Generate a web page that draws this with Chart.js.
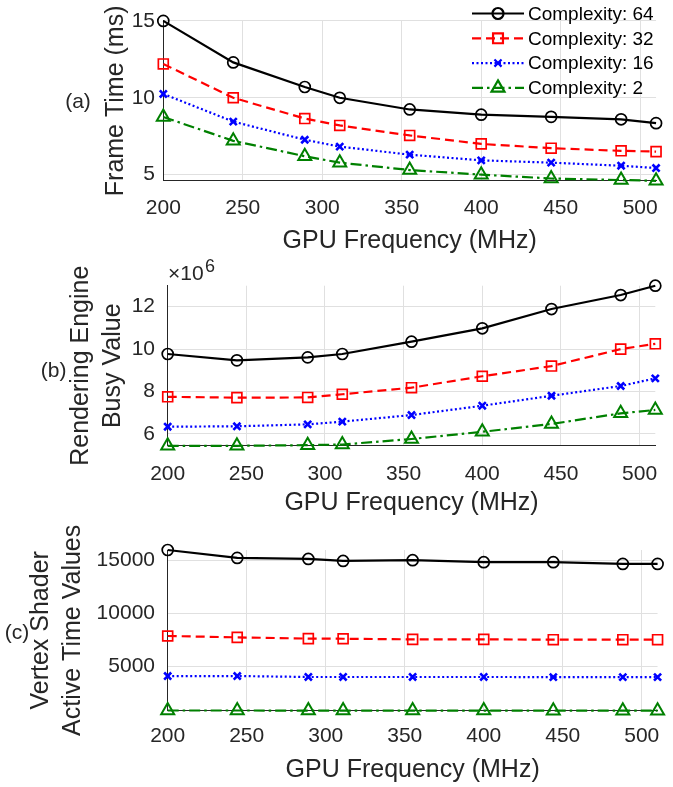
<!DOCTYPE html>
<html>
<head>
<meta charset="utf-8">
<script src="https://cdn.jsdelivr.net/npm/chart.js@4.4.0/dist/chart.umd.min.js"></script>
<style>
  html, body { margin: 0; padding: 0; background: #fff; }
  #wrap { position: relative; width: 673px; height: 787px; overflow: hidden; }
  #wrap canvas { position: absolute; left: 0; }
</style>
</head>
<body>
<div id="wrap">
  <canvas id="chartA" width="673" height="262" style="top:0"></canvas>
  <canvas id="chartB" width="673" height="280" style="top:245px"></canvas>
  <canvas id="chartC" width="673" height="267" style="top:520px"></canvas>
</div>
<script>
// GPU frequencies (x axis) and series names
const freqMHz = [200, 244, 289, 311, 355, 400, 444, 488, 510];
const complexityLabels = ['Complexity: 64', 'Complexity: 32', 'Complexity: 16', 'Complexity: 2'];

// (a) frame time in ms
const frameTime64 = [15.0, 12.3, 10.7, 10.0, 9.24, 8.9, 8.76, 8.6, 8.35];
const frameTime32 = [12.2, 10.0, 8.65, 8.2, 7.55, 7.0, 6.72, 6.55, 6.5];
const frameTime16 = [10.25, 8.45, 7.27, 6.82, 6.3, 5.93, 5.78, 5.58, 5.43];
const frameTime2 = [8.75, 7.2, 6.2, 5.78, 5.3, 5.0, 4.75, 4.65, 4.6];

// (b) rendering engine busy value, x10^6
const busy64 = [9.77, 9.47, 9.61, 9.77, 10.35, 10.98, 11.89, 12.55, 12.99];
const busy32 = [7.75, 7.71, 7.72, 7.87, 8.18, 8.72, 9.2, 10.0, 10.25];
const busy16 = [6.34, 6.36, 6.45, 6.58, 6.89, 7.33, 7.8, 8.26, 8.62];
const busy2 = [5.44, 5.44, 5.47, 5.5, 5.76, 6.1, 6.47, 6.97, 7.13];

// (c) vertex shader active time
const vsActive64 = [16010, 15260, 15160, 14970, 15040, 14850, 14850, 14690, 14690];
const vsActive32 = [7850, 7720, 7600, 7590, 7530, 7530, 7500, 7500, 7500];
const vsActive16 = [4050, 4050, 3960, 3960, 3960, 3960, 3950, 3950, 3950];
const vsActive2 = [780, 780, 770, 770, 770, 770, 760, 760, 760];

// tick labels
const freqTicks = [200, 250, 300, 350, 400, 450, 500];
const frameTimeTicks = [5, 10, 15];
const busyTicks = [6, 8, 10, 12];
const vsActiveTicks = [5000, 10000, 15000];

const FONT = '"Liberation Sans", Arial, Helvetica, sans-serif';
const INK = '#262626';

const looks = [
    { color: '#000000', dash: [], point: 'circle', r: 5.5, pw: 1.7 },
    { color: '#ff0000', dash: [9, 5], point: 'rect', r: 7, pw: 1.7 },
    { color: '#0000ff', dash: [2, 2.5], point: 'crossRot', r: 5, pw: 2.6 },
    { color: '#008000', dash: [11, 4, 2.5, 4], point: 'triangle', r: 7.5, pw: 2 }
];

function buildDatasets(seriesList) {
    return seriesList.map((vals, i) => ({
        label: complexityLabels[i],
        data: freqMHz.map((f, k) => ({ x: f, y: vals[k] })),
        borderColor: looks[i].color,
        backgroundColor: 'rgba(0,0,0,0)',
        borderWidth: 2.2,
        borderDash: looks[i].dash,
        pointStyle: looks[i].point,
        pointRadius: looks[i].r,
        pointBorderWidth: looks[i].pw,
        pointBackgroundColor: 'rgba(0,0,0,0)',
        pointBorderColor: looks[i].color,
        tension: 0,
        clip: false
    }));
}

// extra text: panel letters, exponent, legend
const extrasPlugin = {
    id: 'extras',
    afterDraw(chart, args, opts) {
        const ctx = chart.ctx;
        ctx.save();
        (opts.texts || []).forEach(t => {
            ctx.font = t.size + 'px ' + FONT;
            ctx.fillStyle = t.color || INK;
            ctx.textAlign = t.align || 'center';
            ctx.textBaseline = t.baseline || 'middle';
            ctx.fillText(t.text, t.x, t.y);
        });
        if (opts.legend) {
            const L = opts.legend;
            chart.data.datasets.forEach((ds, i) => {
                const y = L.y0 + i * L.step;
                ctx.strokeStyle = ds.borderColor;
                ctx.lineWidth = ds.borderWidth;
                ctx.setLineDash(ds.borderDash || []);
                ctx.beginPath();
                ctx.moveTo(L.x0, y);
                ctx.lineTo(L.x1, y);
                ctx.stroke();
                ctx.setLineDash([]);
                ctx.fillStyle = 'rgba(0,0,0,0)';
                Chart.helpers.drawPoint(ctx, {
                    pointStyle: ds.pointStyle,
                    radius: ds.pointRadius,
                    borderWidth: ds.pointBorderWidth,
                    rotation: 0
                }, (L.x0 + L.x1) / 2, y);
                ctx.font = L.size + 'px ' + FONT;
                ctx.fillStyle = '#000';
                ctx.textAlign = 'left';
                ctx.textBaseline = 'middle';
                ctx.fillText(ds.label, L.tx, y + 1);
            });
        }
        ctx.restore();
    }
};

function makePanel(id, p) {
    const all = p.series.flat();
    return new Chart(document.getElementById(id), {
        type: 'line',
        data: { datasets: buildDatasets(p.series) },
        options: {
            responsive: false,
            animation: false,
            events: [],
            layout: { padding: { top: p.top, right: p.right, bottom: 0, left: 0 } },
            plugins: {
                legend: { display: false },
                tooltip: { enabled: false },
                extras: p.extras
            },
            scales: {
                x: {
                    type: 'linear',
                    min: freqMHz[0],
                    max: freqMHz[freqMHz.length - 1],
                    afterBuildTicks: ax => { ax.ticks = freqTicks.map(v => ({ value: v })); },
                    afterFit: ax => { ax.height = p.xH; },
                    grid: { color: '#e0e0e0', drawTicks: false },
                    border: { color: INK, width: 1 },
                    ticks: {
                        padding: p.xPad, color: INK, maxRotation: 0, autoSkip: false,
                        font: { family: FONT, size: 21 },
                        callback: v => String(v)
                    },
                    title: {
                        display: true, text: 'GPU Frequency (MHz)', color: INK,
                        font: { family: FONT, size: 25 },
                        padding: { top: 0, bottom: p.xTitlePad }
                    }
                },
                y: {
                    min: Math.min(...all),
                    max: Math.max(...all),
                    afterBuildTicks: ax => { ax.ticks = p.yTicks.map(v => ({ value: v })); },
                    afterFit: ax => { ax.width = p.left; },
                    grid: { color: '#e0e0e0', drawTicks: false },
                    border: { color: INK, width: 1 },
                    ticks: {
                        padding: p.left - 155, color: INK,
                        font: { family: FONT, size: 21 },
                        callback: v => String(v)
                    },
                    title: {
                        display: true, text: p.yTitle, color: INK,
                        font: { family: FONT, size: 25, lineHeight: 1.28 },
                        padding: { top: p.yTitlePad, bottom: 0 }
                    }
                }
            }
        },
        plugins: [extrasPlugin]
    });
}

makePanel('chartA', {
    series: [frameTime64, frameTime32, frameTime16, frameTime2],
    yTicks: frameTimeTicks,
    yTitle: 'Frame Time (ms)',
    top: 13.3, right: 9.3, left: 163.3,
    xH: 81.2, xPad: 15, xTitlePad: 6, yTitlePad: 100.5,
    extras: {
        texts: [{ text: '(a)', x: 78, y: 102, size: 21 }],
        legend: { x0: 472, x1: 524, tx: 528, y0: 13.5, step: 24.8, size: 19 }
    }
});

makePanel('chartB', {
    series: [busy64, busy32, busy16, busy2],
    yTicks: busyTicks,
    yTitle: ['Rendering Engine', 'Busy Value'],
    top: 40.7, right: 8.7, left: 167.7,
    xH: 79.2, xPad: 15.6, xTitlePad: 7, yTitlePad: 65.5,
    extras: {
        texts: [
            { text: '(b)', x: 53.6, y: 126.7, size: 21 },
            { text: '\u00d710', x: 168, y: 35, size: 21, align: 'left', baseline: 'alphabetic' },
            { text: '6', x: 205, y: 27, size: 18, align: 'left', baseline: 'alphabetic' }
        ]
    }
});

makePanel('chartC', {
    series: [vsActive64, vsActive32, vsActive16, vsActive2],
    yTicks: vsActiveTicks,
    yTitle: ['Vertex Shader', 'Active Time Values'],
    top: 30, right: 8.7, left: 167.7,
    xH: 76.3, xPad: 13.4, xTitlePad: 2, yTitlePad: 24.8,
    extras: {
        texts: [{ text: '(c)', x: 17, y: 113, size: 21 }]
    }
});
</script>
</body>
</html>
